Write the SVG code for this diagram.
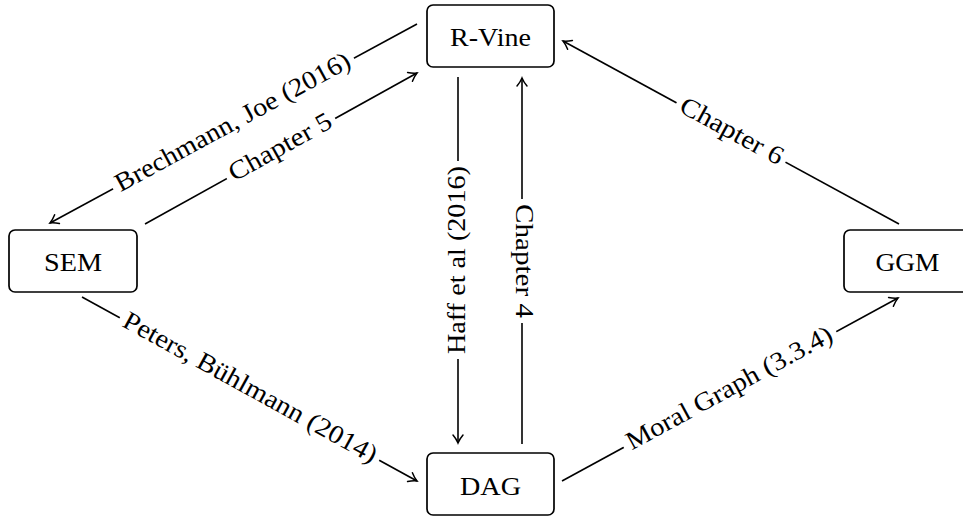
<svg xmlns="http://www.w3.org/2000/svg" width="963" height="516" viewBox="0 0 963 516">
<style>
.box{fill:#fff;stroke:#000;stroke-width:1.7}
.nt{font-family:"Liberation Serif","Times New Roman",serif;font-size:26px;fill:#000;text-anchor:middle}
.lt{font-family:"Liberation Serif","Times New Roman",serif;font-size:26px;fill:#000;text-anchor:middle}
.edge{fill:none;stroke:#000;stroke-width:1.6}
.bg{fill:#fff;stroke:none}
</style>
<defs>
<marker id="arr" markerUnits="userSpaceOnUse" orient="auto" refX="0" refY="0" markerWidth="12" markerHeight="12" overflow="visible">
<path d="M-8,-5 C-5,-2.5 -1.5,-0.6 0,0 C-1.5,0.6 -5,2.5 -8,5" fill="none" stroke="#000" stroke-width="1.5" stroke-linecap="round"/>
</marker>
</defs>
<rect width="963" height="516" fill="#fff"/>
<g id="connectors">
<line class="edge" x1="417" y1="24" x2="50" y2="223" marker-end="url(#arr)"/>
<line class="edge" x1="145" y1="224" x2="417" y2="73" marker-end="url(#arr)"/>
<line class="edge" x1="458" y1="77" x2="458" y2="443" marker-end="url(#arr)"/>
<line class="edge" x1="522" y1="444" x2="522" y2="78" marker-end="url(#arr)"/>
<line class="edge" x1="82" y1="297" x2="417" y2="481" marker-end="url(#arr)"/>
<line class="edge" x1="562" y1="481" x2="898" y2="298" marker-end="url(#arr)"/>
<line class="edge" x1="899" y1="224" x2="563" y2="41" marker-end="url(#arr)"/>
</g>
<g id="labels">
<g id="lbl-brechmann" transform="translate(233.5,123.5) rotate(-28.5)">
<rect class="bg" x="-137" y="-16" width="274" height="32"/>
<text class="lt" x="0" y="6.5" textLength="264" lengthAdjust="spacingAndGlyphs">Brechmann, Joe (2016)</text>
</g>
<g id="lbl-ch5" transform="translate(281,148.5) rotate(-29)">
<rect class="bg" x="-62" y="-16" width="124" height="32"/>
<text class="lt" x="0" y="6.5" textLength="114" lengthAdjust="spacingAndGlyphs">Chapter 5</text>
</g>
<g id="lbl-haff" transform="translate(458,260) rotate(-90)">
<rect class="bg" x="-99" y="-16" width="198" height="32"/>
<text class="lt" x="0" y="6.5" textLength="188" lengthAdjust="spacingAndGlyphs">Haff et al (2016)</text>
</g>
<g id="lbl-ch4" transform="translate(522,261) rotate(90)">
<rect class="bg" x="-62" y="-16" width="124" height="32"/>
<text class="lt" x="0" y="6.5" textLength="114" lengthAdjust="spacingAndGlyphs">Chapter 4</text>
</g>
<g id="lbl-peters" transform="translate(249.5,389) rotate(28.8)">
<rect class="bg" x="-148" y="-16" width="296" height="32"/>
<text class="lt" x="0" y="6.5" textLength="286" lengthAdjust="spacingAndGlyphs">Peters, Bühlmann (2014)</text>
</g>
<g id="lbl-moral" transform="translate(730,389.5) rotate(-28.6)">
<rect class="bg" x="-121" y="-16" width="242" height="32"/>
<text class="lt" x="0" y="6.5" textLength="231" lengthAdjust="spacingAndGlyphs">Moral Graph (3.3.4)</text>
</g>
<g id="lbl-ch6" transform="translate(731,132.5) rotate(28.6)">
<rect class="bg" x="-62" y="-16" width="124" height="32"/>
<text class="lt" x="0" y="6.5" textLength="114" lengthAdjust="spacingAndGlyphs">Chapter 6</text>
</g>
</g>
<g id="node-rvine">
<rect class="box" x="427" y="5" width="127" height="62" rx="6"/>
<text class="nt" x="490.5" y="46" textLength="81" lengthAdjust="spacingAndGlyphs">R-Vine</text>
</g>
<g id="node-sem">
<rect class="box" x="9" y="230" width="128" height="62" rx="6"/>
<text class="nt" x="73" y="271" textLength="58" lengthAdjust="spacingAndGlyphs">SEM</text>
</g>
<g id="node-ggm">
<rect class="box" x="844" y="230" width="127" height="62" rx="6"/>
<text class="nt" x="907.5" y="271" textLength="64" lengthAdjust="spacingAndGlyphs">GGM</text>
</g>
<g id="node-dag">
<rect class="box" x="427" y="453" width="127" height="62" rx="6"/>
<text class="nt" x="490.5" y="495" textLength="61" lengthAdjust="spacingAndGlyphs">DAG</text>
</g>
</svg>
